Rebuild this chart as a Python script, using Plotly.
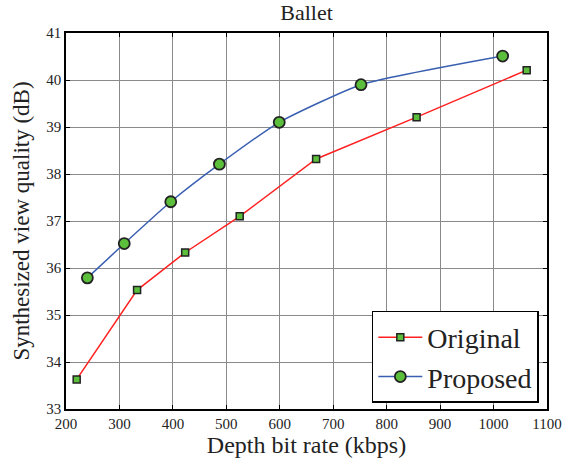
import plotly.graph_objects as go

orig_x = [220, 333, 423, 525, 668, 856, 1062]
orig_y = [33.63, 35.53, 36.33, 37.1, 38.32, 39.21, 40.21]
prop_x = [240, 309, 396, 487, 599, 752, 1017]
prop_y = [35.79, 36.52, 37.41, 38.21, 39.1, 39.9, 40.51]

SERIF = "'Liberation Serif', 'Times New Roman', Times, serif"

fig = go.Figure()
fig.add_trace(go.Scatter(
    x=orig_x, y=orig_y, name="Original", mode="lines+markers",
    line=dict(color="#ff2020", width=1.5),
    marker=dict(symbol="square", size=7, color="#5cbf3c", line=dict(color="#222", width=1.5))))
fig.add_trace(go.Scatter(
    x=prop_x, y=prop_y, name="Proposed", mode="lines+markers",
    line=dict(color="#3a5fb0", width=1.5, shape="spline", smoothing=0.5),
    marker=dict(symbol="circle", size=11, color="#5cbf3c", line=dict(color="#222", width=1.8))))

axis_common = dict(showline=True, linecolor="black", linewidth=1.5, mirror="ticks",
                   ticks="inside", ticklen=4, tickcolor="black", automargin=False,
                   showgrid=True, gridcolor="#8a8a8a", gridwidth=1, zeroline=False,
                   tickfont=dict(family=SERIF, size=15, color="#222"))

fig.update_xaxes(range=[200, 1100], dtick=100, **axis_common,
                 title=dict(text="Depth bit rate (kbps)", standoff=5,
                            font=dict(family=SERIF, size=24, color="#222")))
fig.update_yaxes(range=[33, 41], dtick=1, **axis_common,
                 title=dict(text="Synthesized view quality (dB)", standoff=10,
                            font=dict(family=SERIF, size=23, color="#222")))

fig.update_layout(
    width=573, height=461,
    margin=dict(l=66, r=26, t=33, b=52, autoexpand=False),
    paper_bgcolor="white", plot_bgcolor="white",
    title=dict(text="Ballet", x=0.535, xanchor="center", y=0.99, yanchor="top",
               font=dict(family=SERIF, size=22, color="#222")),
    legend=dict(x=0.983, y=0.016, xanchor="right", yanchor="bottom",
                bgcolor="white", bordercolor="black", borderwidth=1.5,
                font=dict(family=SERIF, size=28, color="#222"),
                itemwidth=44, tracegroupgap=0),
    showlegend=True,
)

fig.write_html("out.html", config={"displayModeBar": False},
               post_script="document.body.style.margin='0';document.body.style.padding='0';")
